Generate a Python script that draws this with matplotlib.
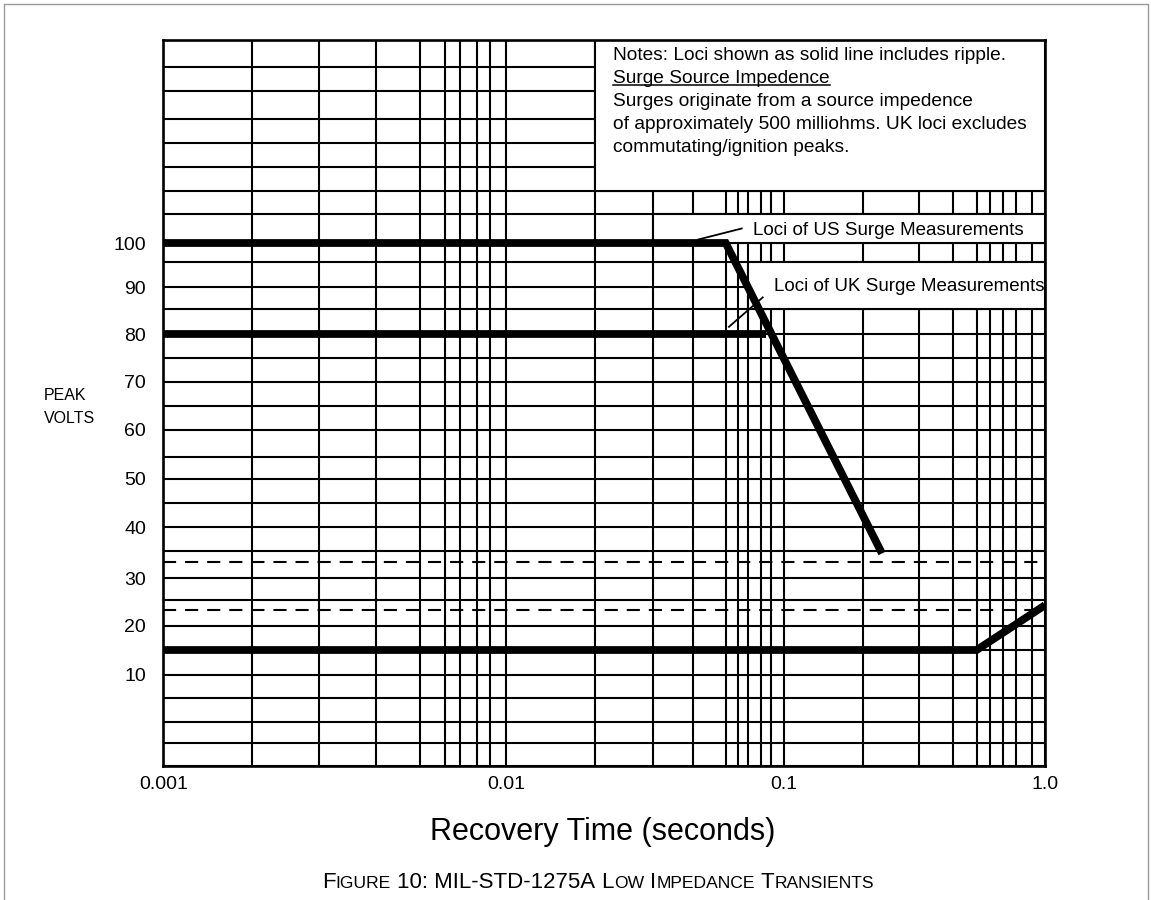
import numpy as np
import matplotlib
matplotlib.use("Agg")
import matplotlib.pyplot as plt
from matplotlib.ticker import FixedLocator, FixedFormatter, NullFormatter
from matplotlib.patches import Rectangle
from matplotlib.lines import Line2D
from matplotlib.transforms import IdentityTransform

plt.rcParams['font.family'] = ['Liberation Sans', 'DejaVu Sans']

W, H, DPI = 1151, 900, 100

# ---- Hand-ruled log/linear chart paper: value of each ruling and where it sits (px)
time_rulings = [0.001, 0.002, 0.003, 0.004, 0.005, 0.006, 0.007, 0.008, 0.009,
                0.01, 0.02, 0.03, 0.04, 0.05, 0.06, 0.07, 0.08, 0.09,
                0.1, 0.2, 0.3, 0.4, 0.5, 0.6, 0.7, 0.8, 0.9, 1.0]
time_ruling_px = [163.3, 252, 319.3, 376, 420, 445, 460, 476.7, 490,
                  506, 595.3, 653.3, 693.3, 725.7, 738.3, 748.3, 761, 770.7,
                  784.3, 862.7, 918.7, 953.3, 976.7, 990, 1003.3, 1015.7, 1031.7, 1045]
volt_rulings = list(range(-10, 145, 5))
volt_ruling_px = [766, 743.3, 721.7, 698.3, 675, 650, 626, 600, 578.3, 550.7,
                  527.3, 502.7, 479, 456.7, 430, 406, 381.7, 357.7, 334.3, 309.3,
                  287.3, 262.3, 243, 214, 190.7, 166.7, 142.7, 119, 91, 66.7, 40]

# ---- Surge loci
us_time = [0.001, 0.05, 0.23]
us_volts = [100, 100, 34.5]
uk_time = [0.001, 0.085]
uk_volts = [80, 80]
low_time = [0.001, 0.5, 1.0]
low_volts = [15, 15, 24]
dashed_levels = [33, 23]

# ---- Axis labelling
xtick_values = [0.001, 0.01, 0.1, 1.0]
xtick_labels = ['0.001', '0.01', '0.1', '1.0']
ytick_values = [10, 20, 30, 40, 50, 60, 70, 80, 90, 100]

notes_lines = [
    "Notes: Loci shown as solid line includes ripple.",
    "Surge Source Impedence",
    "Surges originate from a source impedence",
    "of approximately 500 milliohms. UK loci excludes",
    "commutating/ignition peaks.",
]

# ---- scale functions following the ruled paper
log_r = np.log10(time_rulings)
tpx = np.array(time_ruling_px)
vr = np.array(volt_rulings, dtype=float)
vpx = -np.array(volt_ruling_px)


def t_fwd(x):
    x = np.asarray(x, dtype=float)
    return np.interp(np.log10(np.clip(x, 1e-12, None)), log_r, tpx)


def t_inv(p):
    return 10 ** np.interp(np.asarray(p, dtype=float), tpx, log_r)


def v_fwd(v):
    return np.interp(np.asarray(v, dtype=float), vr, vpx)


def v_inv(p):
    return np.interp(np.asarray(p, dtype=float), vpx, vr)


fig = plt.figure(figsize=(W / DPI, H / DPI), dpi=DPI)
x0, x1 = time_ruling_px[0], time_ruling_px[-1]
ytop, ybot = volt_ruling_px[-1], volt_ruling_px[0]
ax = fig.add_axes([x0 / W, 1 - ybot / H, (x1 - x0) / W, (ybot - ytop) / H])

ax.set_xscale('function', functions=(t_fwd, t_inv))
ax.set_yscale('function', functions=(v_fwd, v_inv))
ax.set_xlim(time_rulings[0], time_rulings[-1])
ax.set_ylim(volt_rulings[0], volt_rulings[-1])

ax.xaxis.set_major_locator(FixedLocator(xtick_values))
ax.xaxis.set_major_formatter(FixedFormatter(xtick_labels))
ax.xaxis.set_minor_locator(FixedLocator(time_rulings))
ax.xaxis.set_minor_formatter(NullFormatter())
ax.yaxis.set_major_locator(FixedLocator(ytick_values))
ax.yaxis.set_major_formatter(FixedFormatter([str(v) for v in ytick_values]))
ax.yaxis.set_minor_locator(FixedLocator(volt_rulings))
ax.yaxis.set_minor_formatter(NullFormatter())
ax.tick_params(which='both', length=0)
ax.tick_params(axis='x', pad=7.5, labelsize=14)
ax.tick_params(axis='y', pad=12.5, labelsize=14)
ax.set_axisbelow(True)
ax.grid(True, which='both', color='black', linewidth=1.5)
for sp in ax.spines.values():
    sp.set_linewidth(1.9)

# white label panels ruled into the grid
panels = [(0.02, 1.0, 110, 140), (0.03, 1.0, 100, 105), (0.07, 1.0, 85, 95)]
for t0, t1, v0, v1 in panels:
    ax.add_patch(Rectangle((t0, v0), t1 - t0, v1 - v0, facecolor='white',
                           edgecolor='black', linewidth=1.5, zorder=1))

# surge loci
thick = dict(color='black', linewidth=5.6, solid_capstyle='butt',
             solid_joinstyle='miter', zorder=3)
ax.plot(us_time, us_volts, **thick)
ax.plot(uk_time, uk_volts, **thick)
ax.plot(low_time, low_volts, **thick)
for lvl in dashed_levels:
    ax.plot([time_rulings[0], time_rulings[-1]], [lvl, lvl], color='black',
            linewidth=1.5, dashes=(6.3, 4.3), dash_capstyle='butt', zorder=2)

# callouts
ax.plot([0.0414, 0.0632], [100.6, 102.5], color='black', lw=1.3, zorder=4)
ax.text(0.0736, 102.1, 'Loci of US Surge Measurements', fontsize=13.5,
        ha='left', va='center', zorder=4)
ax.plot([0.0524, 0.0817], [81.5, 87.7], color='black', lw=1.3, zorder=4)
ax.text(0.0925, 90.1, 'Loci of UK Surge Measurements', fontsize=13.5,
        ha='left', va='center', zorder=4)

# notes panel text
notes_x = (613 - x0) / (x1 - x0)
baselines_px = [59.5, 82.5, 105.5, 128.5, 151.5]
notes_texts = []
for line, bpx in zip(notes_lines, baselines_px):
    t = ax.text(notes_x, (ybot - bpx) / (ybot - ytop), line, transform=ax.transAxes,
                fontsize=13.8, ha='left', va='baseline', zorder=4)
    notes_texts.append(t)

# axis titles
fig.text(44 / W, 1 - 396 / H, 'PEAK', fontsize=11.5, ha='left', va='center')
fig.text(44 / W, 1 - 419 / H, 'VOLTS', fontsize=11.5, ha='left', va='center')
fig.text(603 / W, 1 - 832 / H, 'Recovery Time (seconds)', fontsize=22,
         ha='center', va='center')

fig.canvas.draw()
renderer = fig.canvas.get_renderer()

# underline the heading in the notes
bb = notes_texts[1].get_window_extent(renderer)
base_y = H - baselines_px[1]
fig.add_artist(Line2D([bb.x0, bb.x1], [base_y - 2.0, base_y - 2.0],
                      transform=IdentityTransform(), color='black', lw=1.1))

# small-caps figure caption
big, small = 16.0, 12.6
cap_pieces = [("F", big, False), ("IGURE", small, True), ("10: MIL-STD-1275A", big, True),
              ("L", big, False), ("OW", small, True), ("I", big, False),
              ("MPEDANCE", small, True), ("T", big, False), ("RANSIENTS", small, False)]
cap_base = H - 888
arts, widths, gaps = [], [], []
for s, fs, sp in cap_pieces:
    a = fig.text(0, 0, s, fontsize=fs, ha='left', va='baseline',
                 transform=IdentityTransform())
    arts.append(a)
    widths.append(a.get_window_extent(renderer).width)
    gaps.append(0.278 * big * DPI / 72 if sp else 0.0)
total = sum(widths) + sum(gaps)
xcur = 598 - total / 2
for a, w, g in zip(arts, widths, gaps):
    a.set_position((xcur, cap_base))
    xcur += w + g

# page border
fig.add_artist(Line2D([3.5 / W, 3.5 / W, 1 - 3.5 / W, 1 - 3.5 / W],
                      [0, 1 - 3.5 / H, 1 - 3.5 / H, 0], transform=fig.transFigure,
                      color='#9a9a9a', lw=1.0))

fig.savefig('out.png', dpi=DPI)
